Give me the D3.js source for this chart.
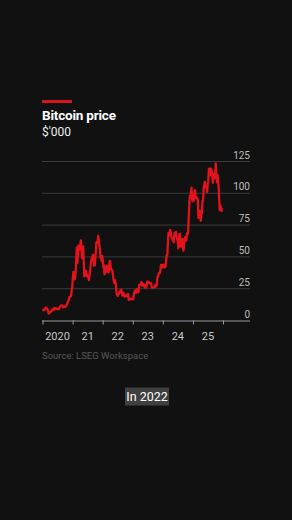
<!DOCTYPE html>
<html>
<head>
<meta charset="utf-8">
<script src="https://cdn.jsdelivr.net/npm/d3@7"></script>
<style>
  html, body { margin: 0; padding: 0; background: #111111; }
  svg { display: block; }
  text { font-family: Roboto, "Noto Sans", sans-serif; }
</style>
</head>
<body>
<svg id="chart"></svg>
<script>
// weekly price, $'000, one value per week starting first Sunday of 2020
const firstWeek = "2020-01-05"
const price2020 = [7.4, 8.2, 8.7, 8.4, 9.3, 10.2, 9.9, 9.7, 8.6, 8.0, 5.4, 5.8, 6.0,
  6.8, 6.9, 7.1, 7.7, 8.9, 8.7, 9.7, 8.7, 9.5, 9.7, 9.4, 9.3, 9.0, 9.1, 9.3, 9.2, 9.9,
  11.1, 11.7, 11.9, 11.7, 11.7, 10.3, 10.3, 10.9, 10.8, 10.7, 11.4, 11.5, 13.1,
  13.8, 15.5, 16.0, 18.4, 18.2, 19.2, 19.2, 23.8, 26.3]
const price2021 = [33.0, 38.2, 36.0, 32.3, 33.1, 39.0, 48.7, 57.5, 45.2, 51.0, 59.0, 57.5, 55.8,
  59.0, 63.0, 56.2, 49.0, 56.6, 58.2, 46.4, 34.7, 35.7, 35.8, 39.1, 35.6, 34.7,
  35.3, 34.2, 31.8, 35.4, 39.9, 43.8, 47.1, 49.3, 48.8, 51.8, 48.3, 43.0, 43.2,
  48.2, 54.9, 61.5, 60.9, 61.3, 66.5, 63.5, 58.7, 57.3, 49.4, 50.1, 46.7, 50.8]
const price2022 = [47.3, 41.8, 43.1, 36.3, 38.0, 42.4, 42.2, 38.4, 43.2, 39.0, 37.8, 41.3, 46.8,
  46.4, 40.1, 40.4, 39.5, 38.5, 34.1, 31.3, 29.4, 31.8, 29.9, 26.6, 20.5, 21.0,
  19.3, 20.8, 20.8, 22.6, 23.3, 23.2, 24.3, 21.5, 19.6, 19.9, 21.8, 19.4, 18.8,
  19.6, 19.4, 19.2, 19.6, 20.6, 20.9, 16.3, 16.3, 16.5, 17.1, 17.1, 16.8, 16.8]
const price2023 = [16.6, 17.1, 20.9, 22.7, 23.7, 22.9, 21.8, 24.6, 23.5, 22.4, 22.2, 28.0, 27.9,
  28.4, 28.3, 30.3, 27.6, 29.2, 28.4, 26.9, 26.7, 28.1, 25.8, 25.9, 26.5, 30.5,
  30.6, 30.2, 30.3, 29.2, 29.3, 29.1, 29.3, 26.1, 26.0, 25.9, 25.8, 26.5, 26.2,
  27.9, 27.9, 26.9, 30.0, 34.5, 35.0, 37.0, 37.4, 37.4, 39.9, 43.8, 41.4, 43.6, 42.3]
const price2024 = [43.9, 42.5, 41.6, 42.0, 42.6, 48.3, 51.6, 51.7, 62.0, 68.9, 68.4, 67.2, 71.3,
  69.3, 65.7, 64.9, 63.4, 63.9, 61.5, 66.3, 69.0, 67.8, 69.6, 66.6, 64.2, 62.7,
  56.7, 60.8, 68.2, 68.3, 58.1, 58.7, 58.4, 64.2, 57.3, 54.9, 59.9, 63.4, 65.6,
  62.8, 62.9, 68.4, 67.9, 68.7, 80.4, 90.6, 98.0, 97.2, 101.2, 104.5, 95.1, 93.7]
const price2025 = [98.3, 94.5, 101.1, 102.6, 97.7, 96.5, 96.1, 96.3, 94.2, 80.7, 82.6, 86.1, 82.4,
  78.4, 83.7, 85.1, 93.7, 94.3, 104.6, 106.5, 109.0, 104.6, 105.7, 105.6, 101.0, 107.1,
  108.9, 119.1, 117.8, 119.4, 114.2, 119.3, 117.5, 113.5, 108.2, 111.1, 115.3, 115.7, 112.2,
  123.5, 115.3, 108.6, 114.5, 110.6, 104.7, 94.1, 86.8, 90.4, 89.0, 87.5, 85.5]

const yTicks = [0, 25, 50, 75, 100, 125]
const xYears = [2020, 2021, 2022, 2023, 2024, 2025]
const xLabels = ["2020", "21", "22", "23", "24", "25"]

const width = 292
const height = 520

const svg = d3.select("#chart")
  .attr("width", width)
  .attr("height", height)

svg.append("rect")
  .attr("width", width)
  .attr("height", height)
  .attr("fill", "#111111")

const prices = [].concat(price2020, price2021, price2022, price2023, price2024, price2025)
const start = new Date(firstWeek + "T00:00:00")
const data = prices.map((v, i) => ({ date: d3.timeWeek.offset(start, i), value: v }))

var x = d3.scaleTime()
  .domain([new Date(2020, 0, 1), new Date(2026, 0, 1)])
  .range([42.5, 223])

var y = d3.scaleLinear()
  .domain([0, 125])
  .range([320.5, 161.5])

// header
svg.append("rect")
  .attr("x", 42).attr("y", 100)
  .attr("width", 30).attr("height", 3)
  .attr("fill", "#d7141a")

svg.append("text")
  .attr("x", 42).attr("y", 120)
  .attr("fill", "#ffffff")
  .style("font-size", "13.5px")
  .style("font-weight", "bold")
  .style("letter-spacing", "-0.2px")
  .text("Bitcoin price")

svg.append("text")
  .attr("x", 42).attr("y", 136)
  .attr("fill", "#eeeeee")
  .style("font-size", "12px")
  .text("$'000")

// gridlines + labels on the right
const grid = svg.append("g")
grid.selectAll("line")
  .data(yTicks.filter(d => d > 0))
  .enter()
  .append("line")
    .attr("x1", 42).attr("x2", 250)
    .attr("y1", d => y(d)).attr("y2", d => y(d))
    .attr("stroke", "#3a3a3a")
    .attr("stroke-width", 1)

grid.selectAll("text")
  .data(yTicks)
  .enter()
  .append("text")
    .attr("x", 250)
    .attr("y", d => y(d) - 3)
    .attr("text-anchor", "end")
    .attr("fill", "#bdbdbd")
    .style("font-size", "10px")
    .text(d => d)

// price line
svg.append("path")
  .datum(data)
  .attr("fill", "none")
  .attr("stroke", "#e3121b")
  .attr("stroke-width", 2.3)
  .attr("stroke-linejoin", "round")
  .attr("d", d3.line()
    .x(d => x(d.date))
    .y(d => y(d.value))
  )

// x axis
const xAxis = svg.append("g")
  .attr("transform", "translate(0," + y(0) + ")")
  .call(d3.axisBottom(x)
    .tickValues(d3.range(2020, 2027).map(yr => new Date(yr, 0, 1)))
    .tickSize(4)
    .tickFormat(""))
xAxis.select(".domain")
  .attr("d", "M42,0.5H250")
  .attr("stroke", "#9a9a9a")
xAxis.selectAll(".tick line").attr("stroke", "#9a9a9a")

svg.append("g")
  .selectAll("text")
  .data(xYears)
  .enter()
  .append("text")
    .attr("x", (d, i) => (x(new Date(d, 0, 1)) + x(new Date(d + 1, 0, 1))) / 2)
    .attr("y", 340)
    .attr("text-anchor", "middle")
    .attr("fill", "#c8c8c8")
    .style("font-size", "11px")
    .text((d, i) => xLabels[i])

svg.append("text")
  .attr("x", 42).attr("y", 359)
  .attr("fill", "#585858")
  .style("font-size", "9.5px")
  .text("Source: LSEG Workspace")

// caption
svg.append("rect")
  .attr("x", 125).attr("y", 387.5)
  .attr("width", 44).attr("height", 18)
  .attr("fill", "#404040")

svg.append("text")
  .attr("x", 147).attr("y", 401)
  .attr("text-anchor", "middle")
  .attr("fill", "#ffffff")
  .style("font-size", "12.5px")
  .text("In 2022")
</script>
</body>
</html>
